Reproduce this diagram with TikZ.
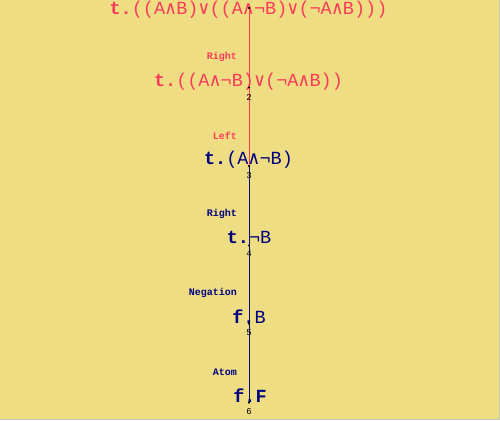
\documentclass[tikz,border=0pt]{standalone}
\usepackage{fontspec}
\setmainfont{Liberation Mono}
\newfontfamily\symf{DejaVu Sans Mono}
\definecolor{bg}{RGB}{238,221,130}
\definecolor{redt}{RGB}{250,60,90}
\definecolor{navyt}{RGB}{0,0,128}
\newcommand{\lAnd}{{\symf ∧}}
\newcommand{\lOr}{{\symf ∨}}
\tikzset{
 fml/.style={inner sep=0pt, anchor=base, font=\fontsize{18.5}{20}\selectfont},
 rulelbl/.style={inner sep=0pt, anchor=east, font=\fontsize{10}{11}\selectfont\bfseries},
 numlbl/.style={inner sep=0pt, font=\fontsize{9}{10}\selectfont, text=black},
 dotpt/.style={circle, fill=black, inner sep=0pt, minimum size=2pt},
 link/.style={line width=1pt}
}
\begin{document}
\begin{tikzpicture}[x=1pt,y=-1pt]
\useasboundingbox (0,0) rectangle (500,420);
\fill[bg] (0,0) rectangle (500,420);
\draw[gray!45] (499.5,0) -- (499.5,419.5) -- (0,419.5);
% formulas
\node[fml, text=redt] (f1) at (248.5,15) {\textbf{t.}((A\lAnd B)\lOr((A\lAnd¬B)\lOr(¬A\lAnd B)))};
\node[fml, text=redt] (f2) at (248.5,86) {\textbf{t.}((A\lAnd¬B)\lOr(¬A\lAnd B))};
\node[fml, text=navyt] (f3) at (248.5,164) {\textbf{t.}(A\lAnd¬B)};
\node[fml, text=navyt] (f4) at (249,243) {\textbf{t.}¬B};
\node[fml, text=navyt] (f5) at (249,323) {\textbf{f.}B};
\node[fml, text=navyt] (f6) at (250,402) {\textbf{f.F}};
% rule labels
\node[rulelbl, text=redt] (r2) at (237,57) {Right};
\node[rulelbl, text=redt] (r3) at (237,136) {Left};
\node[rulelbl, text=navyt] (r4) at (237,214) {Right};
\node[rulelbl, text=navyt] (r5) at (237,293) {Negation};
\node[rulelbl, text=navyt] (r6) at (237,372) {Atom};
% tree nodes
\node[dotpt] (n1) at (249,8) {};
\node[dotpt] (n2) at (249,87.5) {};
\node[dotpt] (n3) at (249,166) {};
\node[dotpt] (n4) at (249,245.5) {};
\node[dotpt] (n5) at (249,323.5) {};
\node[dotpt] (n6) at (249,402.5) {};
% edges
\draw[link, redt] (n1.center) -- (n2.center);
\draw[link, redt] (n2.center) -- (n3.center);
\draw[link, navyt] (n3.center) -- (n4.center);
\draw[link, navyt] (n4.center) -- (n5.center);
\draw[link, navyt] (n5.center) -- (n6.center);
\foreach \n in {n1,n2,n3,n4,n5,n6} \fill[black] (\n) circle (1.1);
% numbers
\node[numlbl] (l2) at (249,97) {2};
\node[numlbl] (l3) at (249,175.5) {3};
\node[numlbl] (l4) at (249,254) {4};
\node[numlbl] (l5) at (249,332.5) {5};
\node[numlbl] (l6) at (249,411.5) {6};
\end{tikzpicture}
\end{document}
